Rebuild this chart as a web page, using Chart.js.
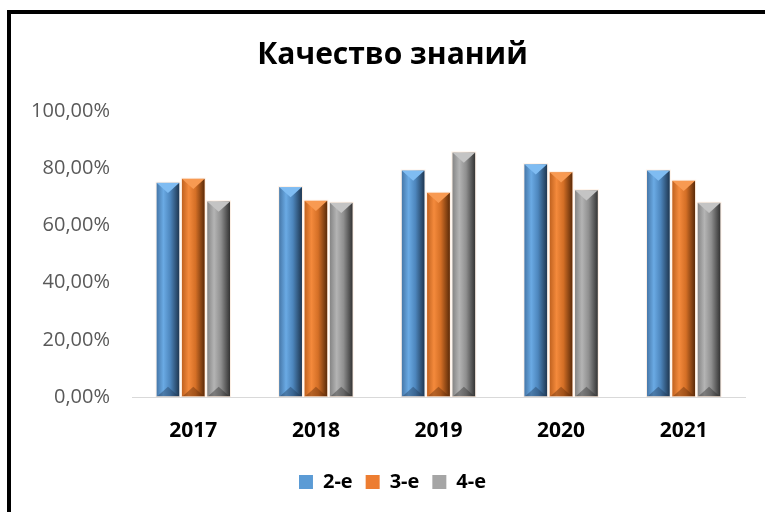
<!DOCTYPE html>
<html>
<head>
<meta charset="utf-8">
<script src="https://cdn.jsdelivr.net/npm/chart.js@4/dist/chart.umd.min.js"></script>
<style>
  body { margin: 0; background: #fff; }
  #wrap { position: relative; width: 765px; height: 512px; overflow: hidden; }
  #frame { position: absolute; left: 7px; top: 10px; width: 900px; height: 600px;
           border-left: 4px solid #000; border-top: 4px solid #000; pointer-events: none; }
  canvas { position: absolute; left: 0; top: 0; }
</style>
</head>
<body>
<div id="wrap">
  <canvas id="chart" width="765" height="512"></canvas>
  <div id="frame"></div>
</div>
<script>
// data
const years = ["2017", "2018", "2019", "2020", "2021"];
const seriesNames = ["2-е", "3-е", "4-е"];
const grade2 = [0.749, 0.734, 0.792, 0.814, 0.792];
const grade3 = [0.763, 0.686, 0.714, 0.786, 0.756];
const grade4 = [0.684, 0.679, 0.855, 0.723, 0.679];

const baseColors = ["#5B9BD5", "#ED7D31", "#A5A5A5"];
// left edge, highlight, body, dark edge, top bevel, bottom bevel
const shades = [
  { edge: "#4677a8", light: "#6aaae4", body: "#4d86bd", dark: "#1e3650", top: "#7fbcf2", bottom: "rgba(30,55,85,0.4)" },
  { edge: "#c0621f", light: "#f48a3c", body: "#d46f26", dark: "#5a2a08", top: "#f89a52", bottom: "rgba(90,40,8,0.4)" },
  { edge: "#858585", light: "#b4b4b4", body: "#8f8f8f", dark: "#333333", top: "#c4c4c4", bottom: "rgba(40,40,40,0.4)" }
];

const font = "'Open Sans', 'Noto Sans', sans-serif";

// Excel-like bevelled columns, drawn over each bar element from the library
const bevelBars = {
  id: "bevelBars",
  afterDatasetsDraw(chart) {
    const ctx = chart.ctx;
    chart.data.datasets.forEach((ds, i) => {
      const meta = chart.getDatasetMeta(i);
      if (meta.hidden) return;
      const s = shades[i];
      meta.data.forEach(bar => {
        const { x, y, base, width } = bar.getProps(["x", "y", "base", "width"], true);
        const l = x - width / 2, r = x + width / 2;
        const g = ctx.createLinearGradient(l, 0, r, 0);
        g.addColorStop(0, s.edge);
        g.addColorStop(0.3, s.light);
        g.addColorStop(0.6, s.body);
        g.addColorStop(1, s.dark);
        ctx.save();
        ctx.fillStyle = g;
        ctx.fillRect(l, y, width, base - y);
        const d = Math.min(width * 0.45, (base - y) / 2);
        ctx.beginPath();
        ctx.moveTo(l, y); ctx.lineTo(r, y); ctx.lineTo(x, y + d); ctx.closePath();
        ctx.fillStyle = s.top;
        ctx.fill();
        ctx.beginPath();
        ctx.moveTo(l, base); ctx.lineTo(r, base); ctx.lineTo(x, base - d); ctx.closePath();
        ctx.fillStyle = s.bottom;
        ctx.fill();
        ctx.strokeStyle = "rgba(255,235,220,0.7)";
        ctx.lineWidth = 1;
        ctx.strokeRect(l - 0.5, y - 0.5, width + 1, base - y);
        ctx.restore();
      });
    });
  }
};

new Chart(document.getElementById("chart"), {
  type: "bar",
  data: {
    labels: years,
    datasets: [
      { label: seriesNames[0], data: grade2, backgroundColor: baseColors[0] },
      { label: seriesNames[1], data: grade3, backgroundColor: baseColors[1] },
      { label: seriesNames[2], data: grade4, backgroundColor: baseColors[2] }
    ]
  },
  options: {
    responsive: false,
    animation: false,
    layout: { padding: { left: 20, right: 0, top: 0, bottom: 10 } },
    datasets: { bar: { categoryPercentage: 0.62, barPercentage: 0.9, borderWidth: 0 } },
    plugins: {
      title: {
        display: true,
        text: "Качество знаний",
        color: "#000",
        font: { family: font, size: 30, weight: "bold" },
        padding: { top: 37, bottom: 38 }
      },
      legend: {
        position: "bottom",
        labels: {
          color: "#000",
          font: { family: font, size: 20, weight: "bold" },
          boxWidth: 14,
          boxHeight: 14,
          padding: 13
        }
      },
      tooltip: { enabled: false }
    },
    scales: {
      x: {
        grid: { display: false, drawTicks: false },
        border: { display: true, color: "#d9d9d9", width: 1 },
        ticks: { color: "#000", font: { family: font, size: 21, weight: "bold" }, padding: 21 },
        afterFit(scale) { scale.height = 62; }
      },
      y: {
        min: 0,
        max: 1,
        grid: { display: false, drawTicks: false },
        border: { display: false },
        ticks: {
          stepSize: 0.2,
          color: "#595959",
          padding: 22,
          font: { family: font, size: 20 },
          callback: v => (v * 100).toFixed(2).replace(".", ",") + "%"
        },
        afterFit(scale) { scale.width = 112; }
      },
      // empty right-hand strip so the plot ends where the picture's does
      side: {
        type: "linear",
        position: "right",
        grid: { display: false, drawTicks: false },
        border: { display: false },
        ticks: { display: false },
        afterFit(scale) { scale.width = 20; }
      }
    }
  },
  plugins: [bevelBars]
});
</script>
</body>
</html>
